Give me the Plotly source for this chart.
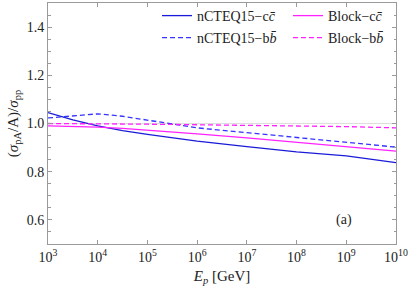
import plotly.graph_objects as go

E_GeV = [1e3, 3.16e3, 1e4, 3.16e4, 1e5, 3.16e5, 1e6, 1e7, 1e8, 1e9, 1e10]
ncteq_cc = [1.045, 1.015, 0.99, 0.970, 0.955, 0.940, 0.927, 0.904, 0.882, 0.866, 0.838]
ncteq_bb = [1.023, 1.032, 1.040, 1.030, 1.014, 0.997, 0.982, 0.962, 0.941, 0.923, 0.902]
block_cc = [0.990, 0.988, 0.985, 0.980, 0.973, 0.965, 0.957, 0.940, 0.922, 0.905, 0.885]
block_bb = [1.000, 1.000, 0.999, 0.998, 0.997, 0.996, 0.995, 0.993, 0.990, 0.987, 0.982]

xtick_vals = [1e3, 1e4, 1e5, 1e6, 1e7, 1e8, 1e9, 1e10]
xtick_text = ["10<sup>%d</sup>" % k for k in range(3, 11)]
ytick_vals = [0.6, 0.8, 1.0, 1.2, 1.4]

BLUE = "#1a1ad8"
BLUE_D = "#3535ff"
MAG = "#ff22ff"
FONT = "Liberation Serif"

fig = go.Figure()
fig.add_trace(go.Scatter(x=E_GeV, y=[1.0] * len(E_GeV), mode="lines",
                         line=dict(color="#dddddd", width=1), showlegend=False, hoverinfo="skip"))
fig.add_trace(go.Scatter(x=E_GeV, y=ncteq_cc, mode="lines", name="nCTEQ15−c<i>c̄</i>",
                         line=dict(color=BLUE, width=1.3), legend="legend"))
fig.add_trace(go.Scatter(x=E_GeV, y=block_cc, mode="lines", name="Block−c<i>c̄</i>",
                         line=dict(color=MAG, width=1.3), legend="legend2"))
fig.add_trace(go.Scatter(x=E_GeV, y=ncteq_bb, mode="lines", name="nCTEQ15−b<i>b̄</i>",
                         line=dict(color=BLUE_D, width=1.3, dash="5px,3px"), legend="legend3"))
fig.add_trace(go.Scatter(x=E_GeV, y=block_bb, mode="lines", name="Block−b<i>b̄</i>",
                         line=dict(color=MAG, width=1.3, dash="5px,3px"), legend="legend4"))

axis_common = dict(showline=True, linecolor="#9a9a9a", linewidth=1, mirror="allticks",
                   ticks="inside", tickcolor="#9a9a9a", ticklen=4, showgrid=False,
                   zeroline=False, automargin=False,
                   tickfont=dict(family=FONT, size=14, color="#222"))

fig.update_xaxes(type="log", range=[3, 10], tickvals=xtick_vals, ticktext=xtick_text,
                 title=dict(text="<i>E<sub>p</sub></i> [GeV]", font=dict(family=FONT, size=15, color="#222"), standoff=6),
                 **axis_common)
fig.update_yaxes(range=[0.5, 1.5], tickvals=ytick_vals, ticktext=["0.6", "0.8", "1.0", "1.2", "1.4"],
                 minor=dict(dtick=0.05, ticks="inside", ticklen=2.5, tickcolor="#9a9a9a"),
                 title=dict(text="(<i>σ</i><sub>pA</sub>/A)/<i>σ</i><sub>pp</sub>", font=dict(family=FONT, size=15, color="#222"), standoff=4),
                 **axis_common)

fig.add_annotation(x=8.95, y=0.6, xref="x", yref="y", text="(a)", showarrow=False,
                   font=dict(family=FONT, size=14, color="#222"))

leg_common = dict(orientation="h", xanchor="left", yanchor="middle", bgcolor="rgba(0,0,0,0)",
                  font=dict(family=FONT, size=14, color="#222"))

def px_x(p):
    return (p - 48) / 348

def px_y(p):
    return 1 - (p - 3) / 241

fig.update_layout(
    width=409, height=293,
    margin=dict(l=48, r=13, t=3, b=49, autoexpand=False),
    paper_bgcolor="white", plot_bgcolor="white",
    legend=dict(x=px_x(157), y=px_y(16), **leg_common),
    legend2=dict(x=px_x(288), y=px_y(16), **leg_common),
    legend3=dict(x=px_x(157), y=px_y(38), **leg_common),
    legend4=dict(x=px_x(288), y=px_y(38), **leg_common),
)

fig.write_html("out.html", config={"displayModeBar": False},
               post_script="document.body.style.margin='0';")
